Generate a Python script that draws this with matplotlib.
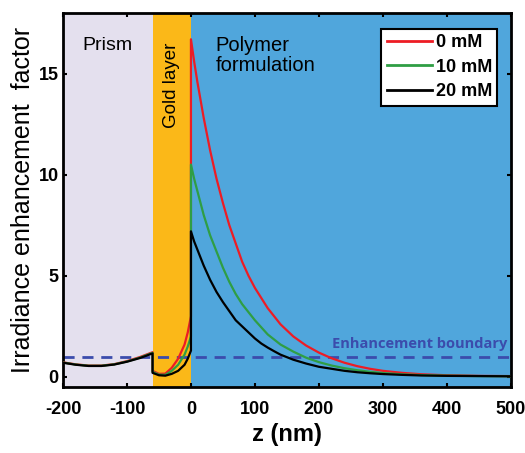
import matplotlib
matplotlib.use("Agg")
import matplotlib.pyplot as plt

plt.rcParams['font.family'] = ['Liberation Sans', 'DejaVu Sans']
plt.rcParams['axes.unicode_minus'] = False

# ---- data ----
z = [-200, -180, -160, -140, -120, -100, -80, -60,
     -60, -50, -40, -30, -20, -10, -5, 0,
     0, 5, 10, 15, 20, 25, 30, 35, 40, 45, 50, 60, 70, 80, 90, 100, 110, 120, 130, 140, 160, 180,
     200, 220, 240, 260, 280, 300, 330, 360, 400, 450, 500]

red_0mM = [0.72, 0.62, 0.56, 0.56, 0.63, 0.78, 0.98, 1.22,
           0.30, 0.15, 0.16, 0.45, 0.90, 1.60, 2.20, 3.00,
           16.7, 15.6, 14.6, 13.7, 12.8, 12.0, 11.2, 10.5, 9.8, 9.2, 8.6, 7.5, 6.6, 5.7, 5.0, 4.4, 3.9, 3.4, 3.0, 2.6, 2.0, 1.55,
           1.20, 0.92, 0.70, 0.53, 0.40, 0.30, 0.20, 0.13, 0.08, 0.05, 0.04]

green_10mM = [0.71, 0.61, 0.55, 0.55, 0.62, 0.76, 0.95, 1.19,
              0.25, 0.11, 0.10, 0.30, 0.60, 1.10, 1.50, 2.00,
              10.5, 9.8, 9.2, 8.6, 8.0, 7.5, 7.0, 6.6, 6.2, 5.8, 5.4, 4.7, 4.1, 3.6, 3.2, 2.8, 2.45, 2.1, 1.85, 1.6, 1.25, 0.95,
              0.73, 0.56, 0.43, 0.33, 0.25, 0.19, 0.13, 0.09, 0.06, 0.04, 0.03]

black_20mM = [0.70, 0.60, 0.54, 0.54, 0.61, 0.75, 0.93, 1.16,
              0.20, 0.08, 0.06, 0.15, 0.30, 0.60, 0.90, 1.30,
              7.2, 6.7, 6.3, 5.9, 5.5, 5.15, 4.8, 4.5, 4.2, 3.95, 3.7, 3.25, 2.8, 2.5, 2.2, 1.9, 1.65, 1.45, 1.27, 1.1, 0.85, 0.66,
              0.50, 0.40, 0.30, 0.23, 0.18, 0.14, 0.10, 0.07, 0.05, 0.04, 0.03]

series_labels = ['0 mM', '10 mM', '20 mM']
region_edges = [-200, -60, 0, 500]
boundary_level = 1.0
x_ticks = [-200, -100, 0, 100, 200, 300, 400, 500]
y_ticks = [0, 5, 10, 15]

# ---- figure ----
fig = plt.figure(figsize=(5.25, 4.53), dpi=100)
ax = fig.add_axes([0.12, 0.1457, 0.853, 0.8256])

region_colors = ['#e4e0ee', '#fbb818', '#50a6dc']
for i in range(3):
    ax.axvspan(region_edges[i], region_edges[i + 1], color=region_colors[i], zorder=0, lw=0)

ax.axhline(boundary_level, color='#3b4cac', lw=2, ls=(0, (4, 2.8)), zorder=2)

cols = ['#ed1c24', '#2f9e44', '#000000']
for ys, c, lab in zip([red_0mM, green_10mM, black_20mM], cols, series_labels):
    ax.plot(z, ys, color=c, lw=1.6, label=lab, zorder=3)

ax.set_xlim(-200, 500)
ax.set_ylim(-0.5, 18)
ax.set_xticks(x_ticks)
ax.set_yticks(y_ticks)
ax.tick_params(direction='in', length=3, width=1.5, top=True, right=True, labelsize=13)
ax.tick_params(axis='x', pad=10)
ax.tick_params(axis='y', pad=3)
for lab in ax.get_xticklabels() + ax.get_yticklabels():
    lab.set_fontweight('bold')
for s in ax.spines.values():
    s.set_linewidth(2)

ax.set_xlabel('z (nm)', fontsize=17, fontweight='bold', labelpad=4)
ax.set_ylabel('Irradiance enhancement  factor', fontsize=18, labelpad=3)

ax.text(-170, 16.4, 'Prism', fontsize=14, va='center', ha='left', zorder=4)
ax.text(-30, 14.4, 'Gold layer', fontsize=13.5, rotation=90, va='center', ha='center', zorder=4)
ax.text(38, 15.9, 'Polymer\nformulation', fontsize=14.5, va='center', ha='left',
        linespacing=1.1, zorder=4)
ax.text(495, 1.3, 'Enhancement boundary', fontsize=10.5, fontweight='bold',
        color='#3b4cac', ha='right', va='bottom', family=['Open Sans', 'DejaVu Sans'], zorder=4)

leg = ax.legend(loc='upper right', bbox_to_anchor=(0.97, 0.958),
                prop={'weight': 'bold', 'size': 13}, handlelength=2.5,
                handletextpad=0.2, borderpad=0.3, labelspacing=0.42,
                frameon=True, fancybox=False, borderaxespad=0)
leg.get_frame().set_edgecolor('black')
leg.get_frame().set_linewidth(1.5)
leg.get_frame().set_alpha(1)
for h in leg.get_lines():
    h.set_linewidth(2)

fig.savefig('out.png', dpi=100)
